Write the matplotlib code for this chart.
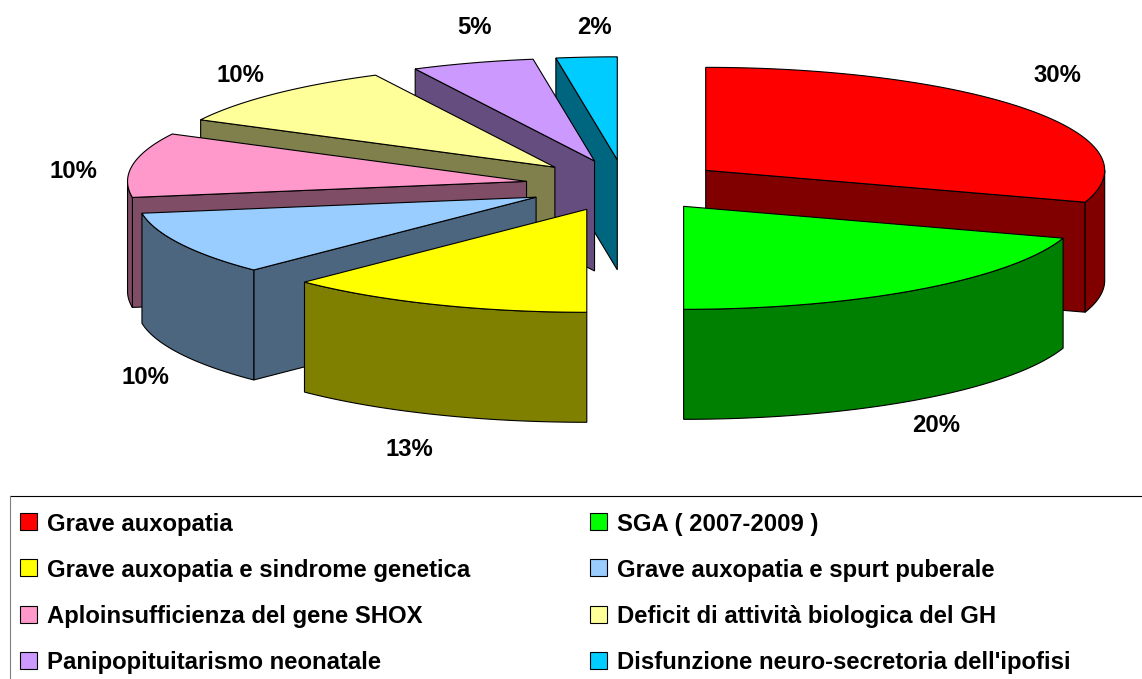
import numpy as np
import matplotlib
matplotlib.use('Agg')
import matplotlib.pyplot as plt
from matplotlib.patches import Polygon, Rectangle

plt.rcParams['font.family'] = ['Liberation Sans', 'DejaVu Sans']

categories = ['Grave auxopatia', 'SGA ( 2007-2009 )',
              'Grave auxopatia e sindrome genetica', 'Grave auxopatia e spurt puberale',
              'Aploinsufficienza del gene SHOX', 'Deficit di attività biologica del GH',
              'Panipopituitarismo neonatale', "Disfunzione neuro-secretoria dell'ipofisi"]
values = [30.0, 20.0, 12.51, 10.0, 10.1, 9.97, 4.96, 2.46]
colors = ['#FF0000', '#00FF00', '#FFFF00', '#99CCFF', '#FF99CC', '#FFFF99', '#CC99FF', '#00CCFF']
dark_colors = ['#800000', '#008000', '#808000', '#4D6680', '#804D66', '#80804D', '#664D80', '#006680']

# where the percent labels sit, in pixels
label_pos = [(1057, 75), (936, 426), (409, 450), (145, 378), (73, 171), (240, 75), (474, 28), (594, 28)]

# pie geometry in pixels
cx, cy = 625, 185.5
rx, ry = 399, 103
depth = 110
explode = 0.25

fig = plt.figure(figsize=(11.42, 6.79), dpi=100)
ax = fig.add_axes([0, 0, 1, 1])
ax.set_xlim(0, 1142)
ax.set_ylim(679, 0)
ax.axis('off')


def rim(t, ax0, ay0):
    return np.column_stack([ax0 + rx * np.sin(t), ay0 - ry * np.cos(t)])


cum = np.cumsum([0] + values) / sum(values) * 2 * np.pi
mids = (cum[:-1] + cum[1:]) / 2
# painter's order, the slices furthest back go first
order = np.argsort(-np.cos(mids))

z = 1
for i in order:
    t0, t1 = cum[i], cum[i + 1]
    ax0 = cx + explode * rx * np.sin(mids[i])
    ay0 = cy - explode * ry * np.cos(mids[i])
    apex = np.array([[ax0, ay0]])
    drop = np.array([0, depth])
    t = np.linspace(t0, t1, 80)
    edge = rim(t, ax0, ay0)

    # flat walls, only those that face down
    if np.sin(t0) < -1e-6:
        p = np.vstack([apex, edge[:1], edge[:1] + drop, apex + drop])
        ax.add_patch(Polygon(p, fc=dark_colors[i], ec='k', lw=0.8, zorder=z))
    if np.sin(t1) > 1e-6:
        p = np.vstack([apex, edge[-1:], edge[-1:] + drop, apex + drop])
        ax.add_patch(Polygon(p, fc=dark_colors[i], ec='k', lw=0.8, zorder=z))

    # outer wall, the front half of the rim
    lo, hi = max(t0, np.pi / 2), min(t1, 3 * np.pi / 2)
    if hi > lo:
        front = rim(np.linspace(lo, hi, 80), ax0, ay0)
        p = np.vstack([front, (front + drop)[::-1]])
        ax.add_patch(Polygon(p, fc=dark_colors[i], ec='k', lw=0.8, zorder=z))

    ax.add_patch(Polygon(np.vstack([apex, edge]), fc=colors[i], ec='k', lw=0.8, zorder=z))
    z += 1

for v, (lx, ly) in zip(values, label_pos):
    ax.text(lx, ly, f'{v:.0f}%', ha='center', va='center', fontsize=17.2, fontweight='bold')

# legend box runs off the right and bottom edges of the picture
ax.plot([1142, 10], [496, 496], color='k', lw=0.8, zorder=z)
ax.plot([10, 10], [496, 679], color='#808080', lw=0.8, zorder=z)

row_y = [522, 568, 615, 661]
col_x = [20, 590]
for i, name in enumerate(categories):
    x = col_x[i % 2]
    y = row_y[i // 2]
    ax.add_patch(Rectangle((x, y - 9), 17, 17, fc=colors[i], ec='k', lw=0.8, zorder=z))
    ax.text(x + 27, y + 2, name, ha='left', va='center', fontsize=17.2, fontweight='bold', zorder=z)

fig.savefig('out.png', dpi=100)
